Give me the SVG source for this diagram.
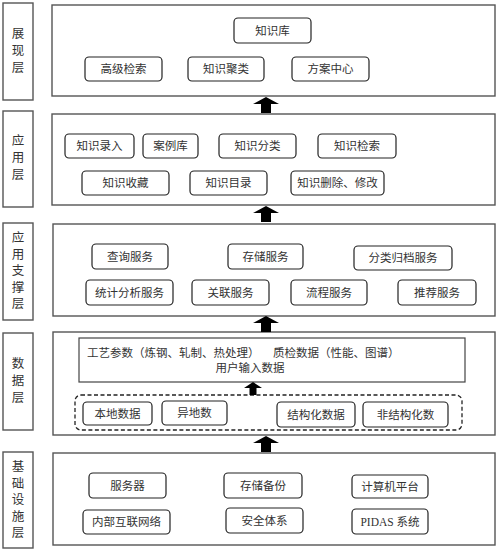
<svg xmlns="http://www.w3.org/2000/svg" xmlns:xlink="http://www.w3.org/1999/xlink" width="500" height="553" viewBox="0 0 500 553">
<style>
.lbl{fill:#fff;stroke:#555;stroke-width:1.4}
.main{fill:#fff;stroke:#555;stroke-width:1.4}
.box{fill:#fff;stroke:#222;stroke-width:1.2}
.dash{fill:none;stroke:#222;stroke-width:1.3;stroke-dasharray:4 2.5}
text{font-family:"Liberation Serif","Noto Sans CJK SC",serif;font-size:11.5px;fill:#333;text-anchor:middle;dominant-baseline:central}
.vt{font-size:12.5px}
.lt{text-anchor:start}
</style>
<defs>
<path id="arr" d="M0,0 L13,7 L5,7 L5,16 L-5,16 L-5,7 L-13,7 Z" fill="#000"/>
<path id="sarr" d="M0,0 L9,6 L3.5,6 L3.5,13 L-3.5,13 L-3.5,6 L-9,6 Z" fill="#000"/>
</defs>
<rect width="500" height="553" fill="#fff"/>

<!-- Layer 1 -->
<g id="layer-display">
<rect class="lbl" x="3" y="3" width="30" height="97"/>
<text class="vt"><tspan x="18" y="34">展</tspan><tspan x="18" y="51">现</tspan><tspan x="18" y="68">层</tspan></text>
<rect class="main" x="52" y="5" width="443" height="91"/>
</g>
<g id="n-zhishiku"><rect class="box" x="234" y="18" width="77" height="25" rx="4"/><text x="272.5" y="30.5">知识库</text></g>
<g id="n-gaoji"><rect class="box" x="85" y="57" width="77" height="24" rx="4"/><text x="123.5" y="69">高级检索</text></g>
<g id="n-julei"><rect class="box" x="188" y="57" width="76" height="24" rx="4"/><text x="226" y="69">知识聚类</text></g>
<g id="n-fangan"><rect class="box" x="292" y="57" width="77" height="24" rx="4"/><text x="330.5" y="69">方案中心</text></g>

<!-- Layer 2 -->
<g id="layer-app">
<rect class="lbl" x="3" y="111" width="30" height="96"/>
<text class="vt"><tspan x="18" y="141">应</tspan><tspan x="18" y="158">用</tspan><tspan x="18" y="175">层</tspan></text>
<rect class="main" x="52" y="114" width="443" height="91"/>
</g>
<g id="n-luru"><rect class="box" x="65" y="134" width="69" height="24" rx="4"/><text x="99.5" y="146">知识录入</text></g>
<g id="n-anli"><rect class="box" x="143" y="134" width="55" height="24" rx="4"/><text x="170.5" y="146">案例库</text></g>
<g id="n-fenlei"><rect class="box" x="219" y="134" width="77" height="24" rx="4"/><text x="257.5" y="146">知识分类</text></g>
<g id="n-jiansuo"><rect class="box" x="318" y="134" width="78" height="24" rx="4"/><text x="357" y="146">知识检索</text></g>
<g id="n-shoucang"><rect class="box" x="82" y="171" width="87" height="24" rx="4"/><text x="125.5" y="183">知识收藏</text></g>
<g id="n-mulu"><rect class="box" x="190" y="171" width="77" height="24" rx="4"/><text x="228.5" y="183">知识目录</text></g>
<g id="n-shanchu"><rect class="box" x="291" y="171" width="93" height="24" rx="4"/><text x="337.5" y="183">知识删除、修改</text></g>

<!-- Layer 3 -->
<g id="layer-support">
<rect class="lbl" x="3" y="223" width="30" height="97"/>
<text class="vt"><tspan x="18" y="238">应</tspan><tspan x="18" y="254.5">用</tspan><tspan x="18" y="271">支</tspan><tspan x="18" y="287.5">撑</tspan><tspan x="18" y="304">层</tspan></text>
<rect class="main" x="53" y="224" width="442" height="92"/>
</g>
<g id="n-chaxun"><rect class="box" x="92" y="244" width="76" height="25" rx="4"/><text x="130" y="256.5">查询服务</text></g>
<g id="n-cunchu"><rect class="box" x="228" y="244" width="75" height="25" rx="4"/><text x="265.5" y="256.5">存储服务</text></g>
<g id="n-guidang"><rect class="box" x="354" y="246" width="98" height="24" rx="4"/><text x="403" y="258">分类归档服务</text></g>
<g id="n-tongji"><rect class="box" x="86" y="280" width="87" height="25" rx="4"/><text x="129.5" y="292.5">统计分析服务</text></g>
<g id="n-guanlian"><rect class="box" x="192" y="280" width="77" height="25" rx="4"/><text x="230.5" y="292.5">关联服务</text></g>
<g id="n-liucheng"><rect class="box" x="291" y="280" width="76" height="25" rx="4"/><text x="329" y="292.5">流程服务</text></g>
<g id="n-tuijian"><rect class="box" x="398" y="280" width="78" height="25" rx="4"/><text x="437" y="292.5">推荐服务</text></g>

<!-- Layer 4 -->
<g id="layer-data">
<rect class="lbl" x="3" y="333" width="30" height="97"/>
<text class="vt"><tspan x="18" y="364">数</tspan><tspan x="18" y="381">据</tspan><tspan x="18" y="398">层</tspan></text>
<rect class="main" x="53" y="332" width="442" height="103"/>
</g>
<g id="n-input">
<rect x="79" y="338" width="386" height="44" fill="#fff" stroke="#444" stroke-width="1.2"/>
<text class="lt" x="87" y="353">工艺参数（炼钢、轧制、热处理）</text>
<text class="lt" x="273" y="353">质检数据（性能、图谱）</text>
<text x="250" y="368">用户输入数据</text>
</g>
<g id="n-sources">
<rect class="dash" x="75" y="395" width="387" height="35" rx="6"/>
</g>
<g id="n-bendi"><rect class="box" x="83" y="402" width="69" height="23" rx="4"/><text x="117.5" y="413.5">本地数据</text></g>
<g id="n-yidi"><rect class="box" x="162" y="401" width="65" height="24" rx="4"/><text x="194.5" y="413">异地数</text></g>
<g id="n-jiegou"><rect class="box" x="277" y="402" width="78" height="25" rx="4"/><text x="316" y="414.5">结构化数据</text></g>
<g id="n-feijiegou"><rect class="box" x="363" y="402" width="85" height="25" rx="4"/><text x="405.5" y="414.5">非结构化数</text></g>

<!-- Layer 5 -->
<g id="layer-infra">
<rect class="lbl" x="3" y="452" width="30" height="96"/>
<text class="vt"><tspan x="18" y="467">基</tspan><tspan x="18" y="483.5">础</tspan><tspan x="18" y="500">设</tspan><tspan x="18" y="516.5">施</tspan><tspan x="18" y="533">层</tspan></text>
<rect class="main" x="53" y="453" width="442" height="92"/>
</g>
<g id="n-fuwuqi"><rect class="box" x="89" y="473" width="77" height="25" rx="4"/><text x="127.5" y="485.5">服务器</text></g>
<g id="n-beifen"><rect class="box" x="224" y="473" width="78" height="25" rx="4"/><text x="263" y="485.5">存储备份</text></g>
<g id="n-pingtai"><rect class="box" x="352" y="475" width="76" height="23" rx="4"/><text x="390" y="486.5">计算机平台</text></g>
<g id="n-wangluo"><rect class="box" x="83" y="510" width="87" height="24" rx="4"/><text x="126.5" y="522">内部互联网络</text></g>
<g id="n-anquan"><rect class="box" x="226" y="508" width="77" height="25" rx="4"/><text x="264.5" y="520.5">安全体系</text></g>
<g id="n-pidas"><rect class="box" x="352" y="509" width="76" height="25" rx="4"/><text x="390" y="521.5">PIDAS 系统</text></g>

<!-- Connectors -->
<g id="connectors">
<use xlink:href="#arr" href="#arr" x="266" y="97"/>
<use xlink:href="#arr" href="#arr" x="266" y="206"/>
<use xlink:href="#arr" href="#arr" x="266" y="316"/>
<use xlink:href="#sarr" href="#sarr" x="253" y="382"/>
<use xlink:href="#arr" href="#arr" x="266" y="436"/>
</g>
</svg>
